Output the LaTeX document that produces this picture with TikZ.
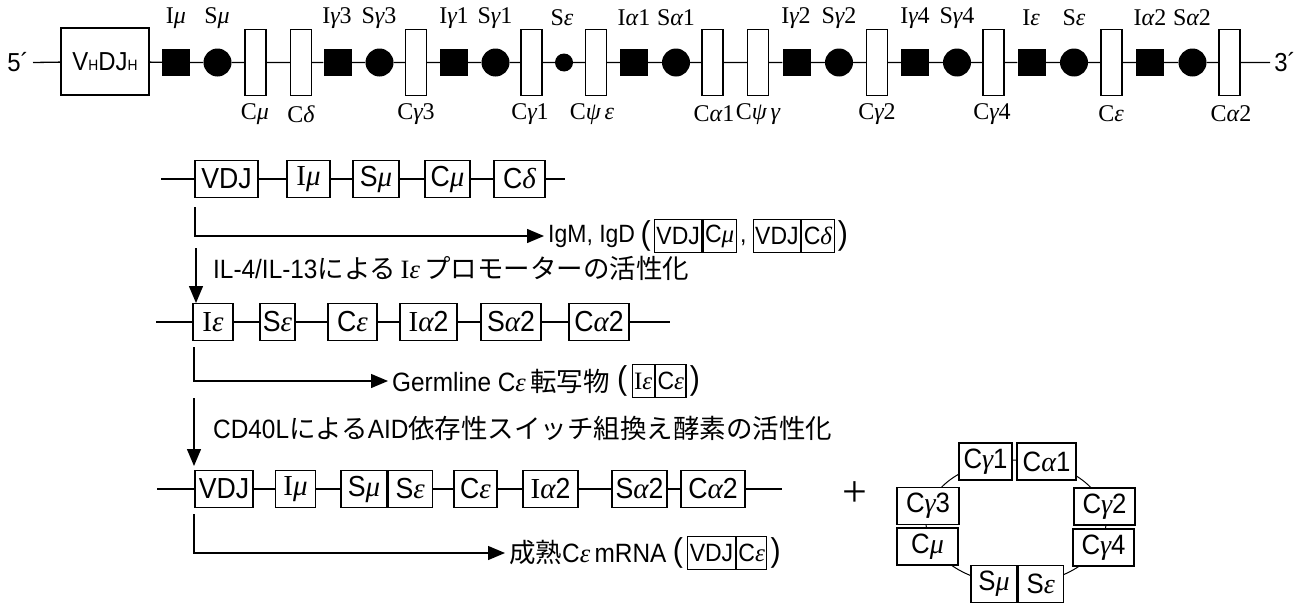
\documentclass[tikz,border=0pt]{standalone}
\usepackage{fontspec}
\setmainfont[FakeStretch=0.92]{Liberation Sans}
\newfontfamily\jp{Noto Sans CJK JP}
\newfontfamily\sr{Liberation Serif}
\usetikzlibrary{arrows.meta}
\newcommand\gk[1]{{\sr\itshape #1}}
\newcommand\RI{{\sr I}}
\begin{document}
\begin{tikzpicture}[x=1pt,y=-1pt,
 ln/.style={line width=1.3pt},
 sq/.style={fill=black,minimum width=28pt,minimum height=27pt,inner sep=0pt},
 ci/.style={circle,fill=black,minimum size=28pt,inner sep=0pt},
 sci/.style={circle,fill=black,minimum size=18pt,inner sep=0pt},
 cr/.style={draw,line width=1.2pt,fill=white,minimum width=21pt,minimum height=66pt,inner sep=0pt},
 lab/.style={font=\sr\fontsize{24}{24}\selectfont,inner sep=0pt},
 gb/.style={draw,line width=1.2pt,fill=white,minimum height=37pt,inner xsep=1pt,inner ysep=0pt,font=\fontsize{29}{29}\selectfont},
 pb/.style={draw,line width=1.2pt,fill=white,minimum height=33pt,inner xsep=2pt,inner ysep=0pt,font=\fontsize{25}{25}\selectfont},
 qb/.style={draw,line width=1.2pt,fill=white,minimum height=37pt,inner xsep=1pt,inner ysep=0pt,font=\fontsize{28}{28}\selectfont},
 captxt/.style={font=\fontsize{26.5}{26.5}\selectfont,inner sep=0pt},
 prn/.style={font=\fontsize{33}{33}\selectfont,inner sep=0pt},
 arr/.style={line width=1.3pt,-{Triangle[length=17pt,width=14pt]}},
]
\useasboundingbox (0,0) rectangle (1303,605);
% ---------- top germline locus ----------
\node[font=\fontsize{26}{26}\selectfont,inner sep=0pt] (five) at (18,62.5) {5´};
\coordinate (t0) at (33,62.5);
\node[draw,line width=1.2pt,minimum width=88pt,minimum height=67pt,inner sep=0pt,font=\fontsize{26}{26}\selectfont] (vh) at (105,61.5) {V{\fontsize{15}{15}\selectfont H}DJ{\fontsize{15}{15}\selectfont H}};
\node[sq] (t1) at (176,62.5) {};
\node[ci] (t2) at (217.5,62.5) {};
\node[cr] (t3) at (255.5,62.5) {};
\node[cr] (t4) at (301,62.5) {};
\node[sq] (t5) at (337.5,62.5) {};
\node[ci] (t6) at (379.5,62.5) {};
\node[cr] (t7) at (416,62.5) {};
\node[sq] (t8) at (454,62.5) {};
\node[ci] (t9) at (495.5,62.5) {};
\node[cr] (t10) at (531.5,62.5) {};
\node[sci] (t11) at (564,62.5) {};
\node[cr] (t12) at (596,62.5) {};
\node[sq] (t13) at (634,62.5) {};
\node[ci] (t14) at (676,62.5) {};
\node[cr] (t15) at (712.5,62.5) {};
\node[cr] (t16) at (758,62.5) {};
\node[sq] (t17) at (796.5,62.5) {};
\node[ci] (t18) at (839,62.5) {};
\node[cr] (t19) at (877,62.5) {};
\node[sq] (t20) at (915,62.5) {};
\node[ci] (t21) at (957,62.5) {};
\node[cr] (t22) at (993.5,62.5) {};
\node[sq] (t23) at (1031.5,62.5) {};
\node[ci] (t24) at (1074,62.5) {};
\node[cr] (t25) at (1111.5,62.5) {};
\node[sq] (t26) at (1150,62.5) {};
\node[ci] (t27) at (1192.5,62.5) {};
\node[cr] (t28) at (1229.5,62.5) {};
\coordinate (te) at (1270,62.5);
\node[font=\fontsize{26}{26}\selectfont,inner sep=0pt] (three) at (1285,62.5) {3´};
\draw[ln] (t0) -- (vh) -- (t1) -- (t2) -- (t3) -- (t4) -- (t5) -- (t6) -- (t7) -- (t8) -- (t9) -- (t10) -- (t11) -- (t12) -- (t13) -- (t14) -- (t15) -- (t16) -- (t17) -- (t18) -- (t19) -- (t20) -- (t21) -- (t22) -- (t23) -- (t24) -- (t25) -- (t26) -- (t27) -- (t28) -- (te);
% labels above
\node[lab] (u1) at (176,18) {I\gk{μ}};
\node[lab] (u2) at (217,18) {S\gk{μ}};
\node[lab] (u3) at (337,18) {I\gk{γ}3};
\node[lab] (u4) at (379,18) {S\gk{γ}3};
\node[lab] (u5) at (454,18) {I\gk{γ}1};
\node[lab] (u6) at (495,18) {S\gk{γ}1};
\node[lab] (u7) at (562,18) {S\gk{ε}};
\node[lab] (u8) at (634,18) {I\gk{α}1};
\node[lab] (u9) at (676,18) {S\gk{α}1};
\node[lab] (u10) at (796,18) {I\gk{γ}2};
\node[lab] (u11) at (839,18) {S\gk{γ}2};
\node[lab] (u12) at (915,18) {I\gk{γ}4};
\node[lab] (u13) at (957,18) {S\gk{γ}4};
\node[lab] (u14) at (1031,18) {I\gk{ε}};
\node[lab] (u15) at (1074,18) {S\gk{ε}};
\node[lab] (u16) at (1150,18) {I\gk{α}2};
\node[lab] (u17) at (1192,18) {S\gk{α}2};
% labels below
\node[lab] (v1) at (255,114) {C\gk{μ}};
\node[lab] (v2) at (301,114) {C\gk{δ}};
\node[lab] (v3) at (416,114) {C\gk{γ}3};
\node[lab] (v4) at (530,114) {C\gk{γ}1};
\node[lab] (v5) at (592,114) {C\gk{ψ}\,\gk{ε}};
\node[lab] (v6) at (714,114) {C\gk{α}1};
\node[lab] (v7) at (758,114) {C\gk{ψ}\,\gk{γ}};
\node[lab] (v8) at (877,114) {C\gk{γ}2};
\node[lab] (v9) at (992,114) {C\gk{γ}4};
\node[lab] (v10) at (1111,114) {C\gk{ε}};
\node[lab] (v11) at (1231,114) {C\gk{α}2};
% ---------- row A ----------
\coordinate (aS) at (161,179);
\node[gb,minimum width=63pt] (a1) at (226.5,179) {VDJ};
\node[gb,minimum width=43pt] (a2) at (308.5,179) {\RI\gk{μ}};
\node[gb,minimum width=46pt] (a3) at (376,179) {S\gk{μ}};
\node[gb,minimum width=45pt] (a4) at (447.5,179) {C\gk{μ}};
\node[gb,minimum width=51pt] (a5) at (519.5,179) {C\gk{δ}};
\coordinate (aE) at (565,179);
\draw[ln] (aS) -- (a1) -- (a2) -- (a3) -- (a4) -- (a5) -- (aE);
% IgM, IgD
\coordinate (m1) at (195,207);
\node[captxt,anchor=west,font=\fontsize{25}{25}\selectfont] (igm) at (548,236) {IgM, IgD};
\draw[arr,shorten >=4pt] (m1) |- (igm.west);
\node[prn,anchor=west] (pl1) at ([xshift=5pt]igm.east) {(};
\node[pb,anchor=west] (p1a) at ([xshift=3pt]pl1.east) {VDJ};
\node[pb,anchor=west] (p1b) at (p1a.east) {C\gk{μ}};
\node[captxt,anchor=base west,font=\fontsize{25}{25}\selectfont] (cm1) at ([xshift=3pt]p1b.east |- igm.base) {,};
\node[pb,anchor=west] (p2a) at ([xshift=6pt]cm1.east |- p1b.east) {VDJ};
\node[pb,anchor=west] (p2b) at (p2a.east) {C\gk{δ}};
\node[prn,anchor=west] (pr1) at ([xshift=3pt]p2b.east) {)};
% arrow 1
\coordinate (d1) at (196,248);
\coordinate (d1e) at (196,303);
\draw[arr] (d1) -- (d1e);
\node[captxt,anchor=west] (il4) at (213,268) {IL-4/IL-13{\jp による}\,\RI\gk{ε}\,{\jp プロモーターの活性化}};
% ---------- row B ----------
\coordinate (bS) at (156,322);
\node[gb,minimum width=40pt] (b1) at (213,322) {\RI\gk{ε}};
\node[gb,minimum width=35pt] (b2) at (277.5,322) {S\gk{ε}};
\node[gb,minimum width=49pt] (b3) at (352.5,322) {C\gk{ε}};
\node[gb,minimum width=57pt] (b4) at (428.5,322) {\RI\gk{α}2};
\node[gb,minimum width=60pt] (b5) at (511,322) {S\gk{α}2};
\node[gb,minimum width=60pt] (b6) at (599,322) {C\gk{α}2};
\coordinate (bE) at (670,322);
\draw[ln] (bS) -- (b1) -- (b2) -- (b3) -- (b4) -- (b5) -- (b6) -- (bE);
% Germline
\coordinate (g1) at (194,347);
\node[captxt,anchor=west] (germ) at (392,381) {Germline C\gk{ε}\,{\jp 転写物}};
\draw[arr,shorten >=4pt] (g1) |- (germ.west);
\node[prn,anchor=west] (pl2) at ([xshift=7pt]germ.east) {(};
\node[pb,anchor=west] (p3a) at ([xshift=4pt]pl2.east) {\RI\gk{ε}};
\node[pb,anchor=west] (p3b) at (p3a.east) {C\gk{ε}};
\node[prn,anchor=west] (pr2) at ([xshift=3pt]p3b.east) {)};
% arrow 2
\coordinate (d2) at (194,398);
\coordinate (d2e) at (194,466);
\draw[arr] (d2) -- (d2e);
\node[captxt,anchor=west] (cd40) at (213,428) {CD40L{\jp による}AID{\jp 依存性スイッチ組換え酵素の活性化}};
% ---------- row C ----------
\coordinate (cS) at (157,489);
\node[gb,minimum width=58pt] (c1) at (224,489) {VDJ};
\node[gb,minimum width=40pt] (c2) at (295.5,489) {\RI\gk{μ}};
\node[gb,minimum width=46pt] (c3a) at (364,489) {S\gk{μ}};
\node[gb,minimum width=44pt,anchor=west] (c3b) at (c3a.east) {S\gk{ε}};
\node[gb,minimum width=43pt] (c4) at (475.5,489) {C\gk{ε}};
\node[gb,minimum width=55pt] (c5) at (550.5,489) {\RI\gk{α}2};
\node[gb,minimum width=55pt] (c6) at (639.5,489) {S\gk{α}2};
\node[gb,minimum width=64pt] (c7) at (713,489) {C\gk{α}2};
\coordinate (cE) at (782,489);
\draw[ln] (cS) -- (c1) -- (c2) -- (c3a);
\draw[ln] (c3b) -- (c4) -- (c5) -- (c6) -- (c7) -- (cE);
% mature
\coordinate (s1) at (194,514);
\node[captxt,anchor=west] (mat) at (509,553) {{\jp 成熟}C\gk{ε}\,mRNA};
\draw[arr,shorten >=4pt] (s1) |- (mat.west);
\node[prn,anchor=west] (pl3) at ([xshift=6pt]mat.east) {(};
\node[pb,anchor=west] (p4a) at ([xshift=4pt]pl3.east) {VDJ};
\node[pb,anchor=west] (p4b) at (p4a.east) {C\gk{ε}};
\node[prn,anchor=west] (pr3) at ([xshift=3pt]p4b.east) {)};
% plus
\node[inner sep=0pt,font=\sr\fontsize{44}{44}\selectfont] (plus) at (855,494) {+};
% ---------- excised circle ----------
\draw[line width=1pt] (1016,522) ellipse [x radius=90pt, y radius=62pt];
\node[qb,minimum width=53pt] (q1) at (985.5,461.5) {C\gk{γ}1};
\node[qb,minimum width=59pt] (q2) at (1046.5,461.5) {C\gk{α}1};
\node[qb,minimum width=62pt] (q3) at (928,506) {C\gk{γ}3};
\node[qb,minimum width=61pt] (q4) at (927.5,546.5) {C\gk{μ}};
\node[qb,minimum width=61pt] (q5) at (1104.5,506.5) {C\gk{γ}2};
\node[qb,minimum width=61pt] (q6) at (1103.5,547.5) {C\gk{γ}4};
\node[qb,minimum width=46pt] (q7) at (994,584) {S\gk{μ}};
\node[qb,minimum width=45pt,anchor=west] (q8) at (q7.east) {S\gk{ε}};
\end{tikzpicture}
\end{document}
